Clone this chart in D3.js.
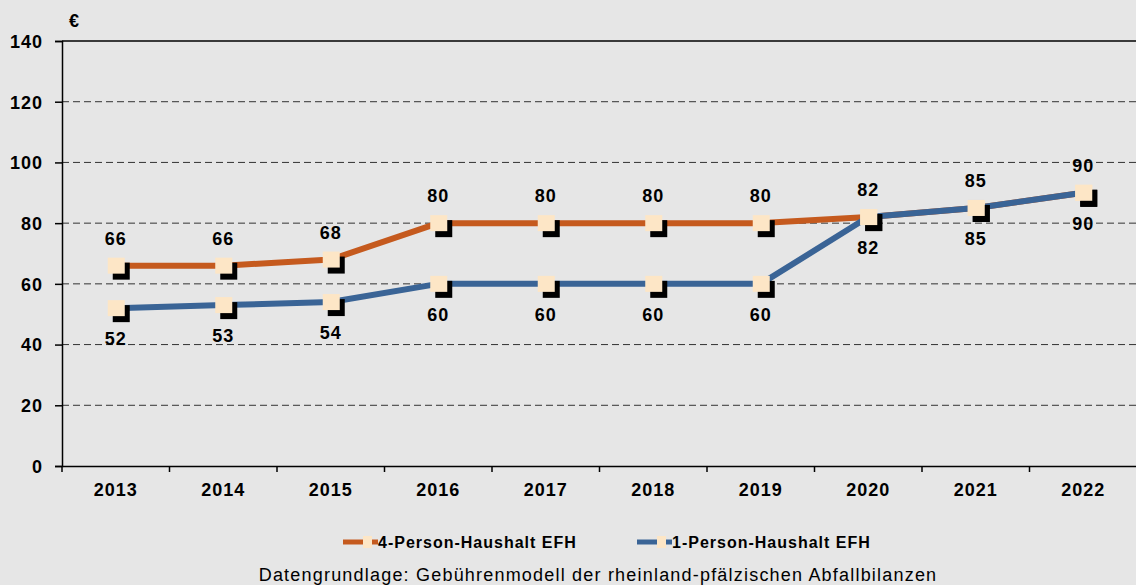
<!DOCTYPE html>
<html>
<head>
<meta charset="utf-8">
<script src="https://cdn.jsdelivr.net/npm/d3@7"></script>
<style>
  body { margin: 0; background: #e6e6e6; }
  svg { display: block; font-family: "Liberation Sans", Arial, sans-serif; }
  .yax text, .xax text { font-size: 18px; font-weight: bold; fill: #000; letter-spacing: 1px; }
  .lbl { font-size: 18px; font-weight: bold; fill: #000; text-anchor: middle; letter-spacing: 1px; }
  .legend { font-size: 16px; font-weight: bold; fill: #000; letter-spacing: 1px; }
</style>
</head>
<body>
<div id="chart"></div>
<script>
var jahre = ["2013","2014","2015","2016","2017","2018","2019","2020","2021","2022"]
var vierPerson = [66, 66, 68, 80, 80, 80, 80, 82, 85, 90]
var einPerson = [52, 53, 54, 60, 60, 60, 60, 82, 85, 90]
var yTicks = [0, 20, 40, 60, 80, 100, 120, 140]
var serien = ["4-Person-Haushalt EFH", "1-Person-Haushalt EFH"]

var W = 1136, H = 585
var margin = { top: 41, right: -1, bottom: 119, left: 62 }
    w1 = W - margin.left - margin.right
    h1 = H - margin.top - margin.bottom

var svg = d3.select("#chart").append("svg")
    .attr("width", W).attr("height", H)
svg.append("rect").attr("width", W).attr("height", H).attr("fill", "#e6e6e6")

var g = svg.append("g")
    .attr("transform", "translate(" + margin.left + "," + margin.top + ")")

var x = d3.scaleBand().domain(jahre).range([0, w1])
var y = d3.scaleLinear().domain([0, 140]).range([h1, 0])

// gitterlinien
g.selectAll(".grid")
    .data(yTicks.filter(function(d){ return d > 0 && d < 140 }))
    .enter().append("line")
        .attr("x1", 0).attr("x2", w1)
        .attr("y1", function(d){ return y(d) }).attr("y2", function(d){ return y(d) })
        .attr("stroke", "#333").attr("stroke-width", 1)
        .attr("stroke-dasharray", "7,4")

g.append("line")
    .attr("x1", 0).attr("x2", w1).attr("y1", y(140)).attr("y2", y(140))
    .attr("stroke", "#000").attr("stroke-width", 1.5)

// achsen
var yAxis = g.append("g").attr("class", "yax")
    .call(d3.axisLeft(y).tickValues(yTicks).tickSize(7).tickPadding(12))
yAxis.select(".domain").attr("stroke", "#000").attr("stroke-width", 1.5)
yAxis.selectAll(".tick line").attr("stroke", "#000").attr("stroke-width", 1.5)
yAxis.selectAll("text").attr("dy", "0.35em")

var xAxis = g.append("g").attr("class", "xax")
    .attr("transform", "translate(0," + h1 + ")")
    .call(d3.axisBottom(x).tickSize(0).tickPadding(17))
xAxis.select(".domain").attr("stroke", "#000").attr("stroke-width", 1.5)

// ticks zwischen den kategorien
g.selectAll(".xtick")
    .data(jahre)
    .enter().append("line")
        .attr("x1", function(d){ return x(d) }).attr("x2", function(d){ return x(d) })
        .attr("y1", h1).attr("y2", h1 + 6)
        .attr("stroke", "#000").attr("stroke-width", 1.5)

svg.append("text").attr("x", 69).attr("y", 27)
    .style("font-size", "18px").style("font-weight", "bold").text("€")

var farben = ["#c55a1e", "#3a6496"]
var daten = [vierPerson, einPerson]

var line = d3.line()
    .x(function(d, i){ return x(jahre[i]) + x.bandwidth() / 2 })
    .y(function(d){ return y(d) })

var reihenfolge = [0, 1]
reihenfolge.forEach(function(s) {
    g.append("path").datum(daten[s])
        .attr("d", line)
        .attr("fill", "none")
        .attr("stroke", farben[s])
        .attr("stroke-width", 6)
        .attr("stroke-linejoin", "round")
})

reihenfolge.forEach(function(s) {
    var pts = g.selectAll(".pt" + s).data(daten[s]).enter().append("g")
        .attr("transform", function(d, i){
            return "translate(" + (x(jahre[i]) + x.bandwidth() / 2) + "," + y(d) + ")" })
    pts.append("rect")
        .attr("x", -3).attr("y", -3).attr("width", 17).attr("height", 17)
        .attr("fill", "#000")
    pts.append("rect")
        .attr("x", -8).attr("y", -8).attr("width", 17).attr("height", 16)
        .attr("fill", "#fde6c6")
})

// beschriftungen
g.selectAll(".lbl0").data(vierPerson).enter().append("text")
    .attr("class", "lbl")
    .attr("x", function(d, i){ return x(jahre[i]) + x.bandwidth() / 2 })
    .attr("y", function(d){ return y(d) - 21 })
    .text(function(d){ return d })

g.selectAll(".lbl1").data(einPerson).enter().append("text")
    .attr("class", "lbl")
    .attr("x", function(d, i){ return x(jahre[i]) + x.bandwidth() / 2 })
    .attr("y", function(d){ return y(d) + 37 })
    .text(function(d){ return d })

// legende
var legX = [343, 637]
serien.forEach(function(name, i) {
    var lg = svg.append("g").attr("transform", "translate(" + legX[i] + ",542)")
    lg.append("line").attr("x1", 0).attr("x2", 35).attr("y1", 0).attr("y2", 0)
        .attr("stroke", farben[i]).attr("stroke-width", 5)
    lg.append("rect").attr("x", 20).attr("y", -6).attr("width", 9).attr("height", 12)
        .attr("fill", "#fde6c6")
    lg.append("text").attr("class", "legend").attr("x", 35).attr("y", 6).text(name)
})

svg.append("text").attr("x", 598).attr("y", 581)
    .attr("text-anchor", "middle").style("font-size", "18px").style("letter-spacing", "1.2px")
    .text("Datengrundlage: Gebührenmodell der rheinland-pfälzischen Abfallbilanzen")
</script>
</body>
</html>
